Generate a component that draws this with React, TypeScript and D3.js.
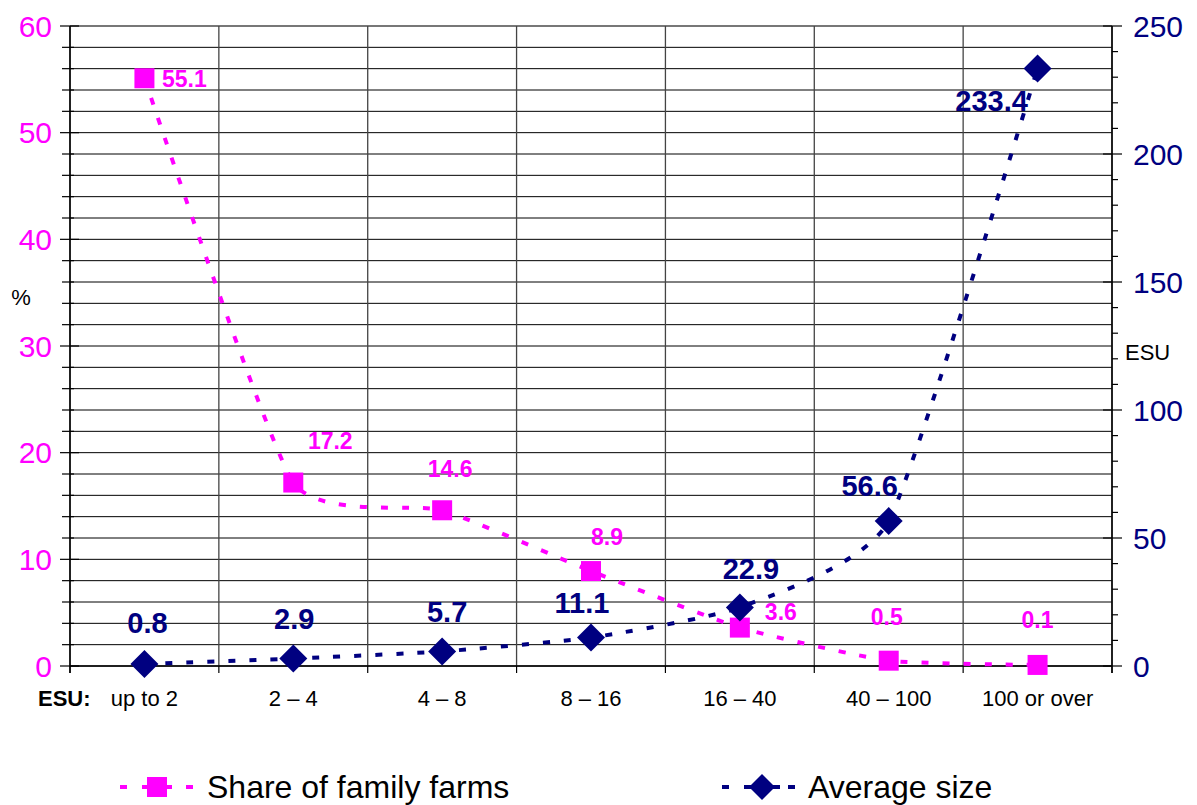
import React from "react";
import * as d3 from "d3";

const categories = ["up to 2", "2 – 4", "4 – 8", "8 – 16", "16 – 40", "40 – 100", "100 or over"];
const shareValues = [55.1, 17.2, 14.6, 8.9, 3.6, 0.5, 0.1];
const sizeValues = [0.8, 2.9, 5.7, 11.1, 22.9, 56.6, 233.4];
const leftTicks = [0, 10, 20, 30, 40, 50, 60];
const rightTicks = [0, 50, 100, 150, 200, 250];
const seriesNames = ["Share of family farms", "Average size"];

// label offsets relative to the marker (placement only)
const shareLabelOffsets: [number, number][] = [[40, 0], [37, -42], [8, -42], [16, -34], [41, -16], [-2, -44], [0, -45]];
const sizeLabelOffsets: [number, number][] = [[3, -41], [1, -40], [5, -40], [-9, -35], [11, -39], [-19, -36], [-46, 32]];

const W = 1197, H = 805;
const L = 70, R = 1112, T = 26, B = 666;
const PINK = "#FF00FF";
const NAVY = "#000080";
const FONT = "'Liberation Sans', Arial, sans-serif";

export default function App() {
  const x = d3.scaleBand<string>().domain(categories).range([L, R]).padding(0);
  const cx = (c: string) => (x(c) as number) + x.bandwidth() / 2;
  const yL = d3.scaleLinear().domain([0, 60]).range([B, T]);
  const yR = d3.scaleLinear().domain([0, 250]).range([B, T]);

  const gridVals = d3.range(0, 61, 2);
  const rightMinor = d3.range(0, 251, 10);
  const boundaries = categories.map((c) => x(c) as number).concat([R]);

  const shareLine = d3
    .line<number>()
    .x((_, i) => cx(categories[i]))
    .y((d) => yL(d))
    .curve(d3.curveCardinal.tension(0.5));
  const sizeLine = d3
    .line<number>()
    .x((_, i) => cx(categories[i]))
    .y((d) => yR(d))
    .curve(d3.curveCardinal.tension(0.5));

  const diamond = (px: number, py: number, r: number) =>
    `M${px},${py - r}L${px + r},${py}L${px},${py + r}L${px - r},${py}Z`;

  return (
    <svg width={W} height={H} style={{ position: "absolute", left: 0, top: 0, background: "#fff" }} fontFamily={FONT}>
      <rect x={0} y={0} width={W} height={H} fill="#fff" />
      {/* horizontal gridlines */}
      {gridVals.map((v) => (
        <line key={"g" + v} x1={L} x2={R} y1={yL(v)} y2={yL(v)} stroke="#000" strokeWidth={1} />
      ))}
      <line x1={L} x2={R} y1={T} y2={T} stroke="#777" strokeWidth={2} />
      {/* vertical gridlines */}
      {boundaries.map((bx, i) => (
        <line key={"v" + i} x1={bx} x2={bx} y1={T} y2={B} stroke="#444" strokeWidth={1.3} />
      ))}
      {/* left axis */}
      <line x1={L} x2={L} y1={T} y2={B + 7} stroke="#000" strokeWidth={1.5} />
      {gridVals.map((v) => (
        <line key={"lt" + v} x1={v % 10 === 0 ? 60 : 62} x2={v % 10 === 0 ? 79 : 74} y1={yL(v)} y2={yL(v)} stroke="#000" strokeWidth={1.2} />
      ))}
      {leftTicks.map((v) => (
        <text key={"ll" + v} x={52} y={yL(v)} dy="0.36em" textAnchor="end" fontSize={30} fill={PINK}>
          {v}
        </text>
      ))}
      <text x={21} y={297} dy="0.36em" textAnchor="middle" fontSize={22} fill="#000">%</text>
      {/* right axis */}
      <line x1={R} x2={R} y1={T} y2={B + 7} stroke="#000" strokeWidth={1.5} />
      {rightMinor.map((v) => (
        <line key={"rt" + v} x1={v % 50 === 0 ? 1103 : R} x2={v % 50 === 0 ? 1122 : 1118} y1={yR(v)} y2={yR(v)} stroke="#000" strokeWidth={1.2} />
      ))}
      {rightTicks.map((v) => (
        <text key={"rl" + v} x={1133} y={yR(v)} dy="0.36em" textAnchor="start" fontSize={30} fill={NAVY}>
          {v}
        </text>
      ))}
      <text x={1125} y={352} dy="0.36em" textAnchor="start" fontSize={22} fill="#000">ESU</text>
      {/* bottom axis */}
      <line x1={L} x2={R} y1={B} y2={B} stroke="#000" strokeWidth={1.5} />
      {boundaries.map((bx, i) => (
        <line key={"bt" + i} x1={bx} x2={bx} y1={B} y2={B + 7} stroke="#000" strokeWidth={1.2} />
      ))}
      {categories.map((c) => (
        <text key={"c" + c} x={cx(c)} y={698} dy="0.36em" textAnchor="middle" fontSize={22} fill="#000">
          {c}
        </text>
      ))}
      <text x={38} y={698} dy="0.36em" textAnchor="start" fontSize={22} fontWeight="bold" fill="#000">ESU:</text>
      {/* series lines */}
      <path d={shareLine(shareValues) as string} fill="none" stroke={PINK} strokeWidth={4} strokeDasharray="7 14" />
      <path d={sizeLine(sizeValues) as string} fill="none" stroke={NAVY} strokeWidth={4} strokeDasharray="7 14" />
      {/* markers */}
      {shareValues.map((v, i) => (
        <rect key={"sm" + i} x={cx(categories[i]) - 10} y={yL(v) - 10} width={20} height={20} fill={PINK} />
      ))}
      {sizeValues.map((v, i) => (
        <path key={"zm" + i} d={diamond(cx(categories[i]), yR(v), 14)} fill={NAVY} />
      ))}
      {/* data labels */}
      {shareValues.map((v, i) => (
        <text key={"sl" + i} x={cx(categories[i]) + shareLabelOffsets[i][0]} y={yL(v) + shareLabelOffsets[i][1]} dy="0.36em" textAnchor="middle" fontSize={23} fontWeight="bold" fill={PINK}>
          {v.toFixed(1)}
        </text>
      ))}
      {sizeValues.map((v, i) => (
        <text key={"zl" + i} x={cx(categories[i]) + sizeLabelOffsets[i][0]} y={yR(v) + sizeLabelOffsets[i][1]} dy="0.36em" textAnchor="middle" fontSize={29} fontWeight="bold" fill={NAVY}>
          {v.toFixed(1)}
        </text>
      ))}
      {/* legend */}
      <g>
        <line x1={120} x2={194} y1={787} y2={787} stroke={PINK} strokeWidth={4} strokeDasharray="7 15" />
        <line x1={142} x2={172} y1={787} y2={787} stroke={PINK} strokeWidth={4} />
        <rect x={147} y={777} width={20} height={20} fill={PINK} />
        <text x={207} y={798} fontSize={32} fill="#000">{seriesNames[0]}</text>
        <line x1={722} x2={796} y1={787} y2={787} stroke={NAVY} strokeWidth={4} strokeDasharray="7 15" />
        <line x1={745} x2={780} y1={787} y2={787} stroke={NAVY} strokeWidth={4} />
        <path d={diamond(762, 787, 13)} fill={NAVY} />
        <text x={808} y={798} fontSize={32} fill="#000">{seriesNames[1]}</text>
      </g>
    </svg>
  );
}
